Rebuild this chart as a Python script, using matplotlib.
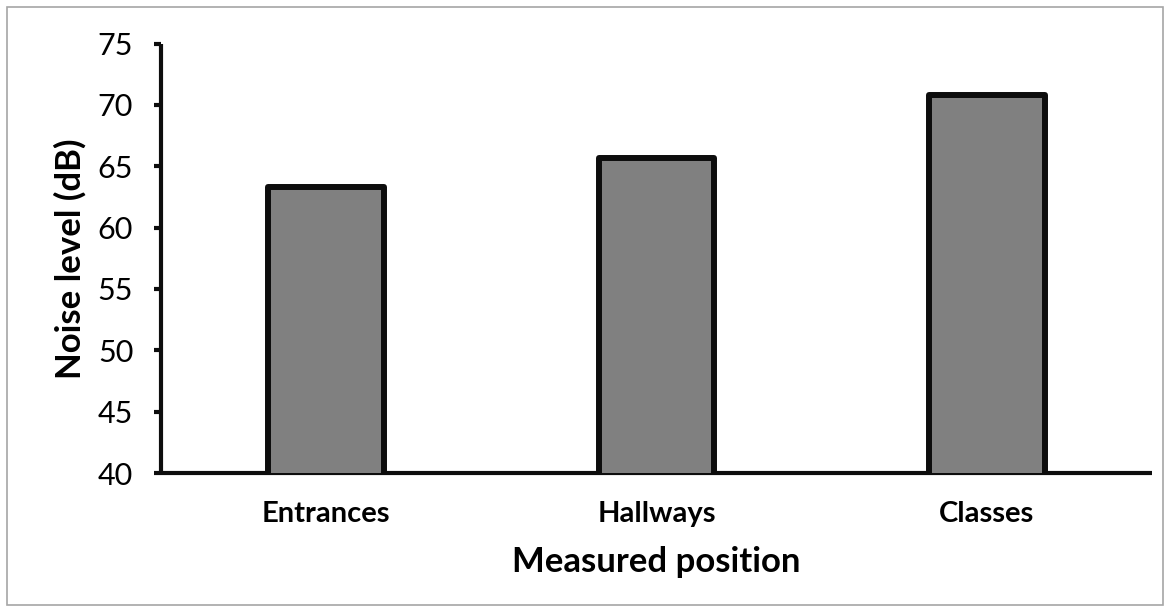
import matplotlib.pyplot as plt
from matplotlib.patches import Rectangle

positions = ["Entrances", "Hallways", "Classes"]
noise_db = [63.3, 65.7, 70.8]
y_ticks = [40, 45, 50, 55, 60, 65, 70, 75]

plt.rcParams['font.family'] = ['Lato', 'DejaVu Sans']

fig = plt.figure(figsize=(11.71, 6.12), dpi=100)
ax = fig.add_axes([0.1375, 0.2271, 0.8463, 0.7017])

x = range(len(positions))
ax.bar(x, noise_db, width=0.35, color="#808080", edgecolor="#0d0d0d",
       linewidth=4.3, joinstyle="round", zorder=3)

ax.set_xlim(-0.5, 2.5)
ax.set_ylim(40, 75)
ax.set_yticks(y_ticks)
ax.set_yticklabels([str(v) for v in y_ticks], fontsize=22)
ax.set_xticks(list(x))
ax.set_xticklabels(positions, fontsize=21, fontweight="bold")
ax.tick_params(axis="y", length=5, width=3, color="#0d0d0d", pad=15)
ax.tick_params(axis="x", length=0, pad=20)

for side in ["top", "right"]:
    ax.spines[side].set_visible(False)
for side in ["left", "bottom"]:
    ax.spines[side].set_linewidth(3)
    ax.spines[side].set_color("#0d0d0d")
    ax.spines[side].set_capstyle("butt")

ax.set_xlabel("Measured position", fontsize=25, fontweight="bold", labelpad=14)
ax.set_ylabel("Noise level (dB)", fontsize=25, fontweight="bold", labelpad=8)

# light grey frame around the chart area
fig.patches.append(Rectangle((7 / 1171, 7 / 612), 1 - 15 / 1171, 1 - 14 / 612,
                             transform=fig.transFigure, fill=False,
                             edgecolor="#a6a6a6", linewidth=1.2))

fig.savefig("out.png", dpi=100)
